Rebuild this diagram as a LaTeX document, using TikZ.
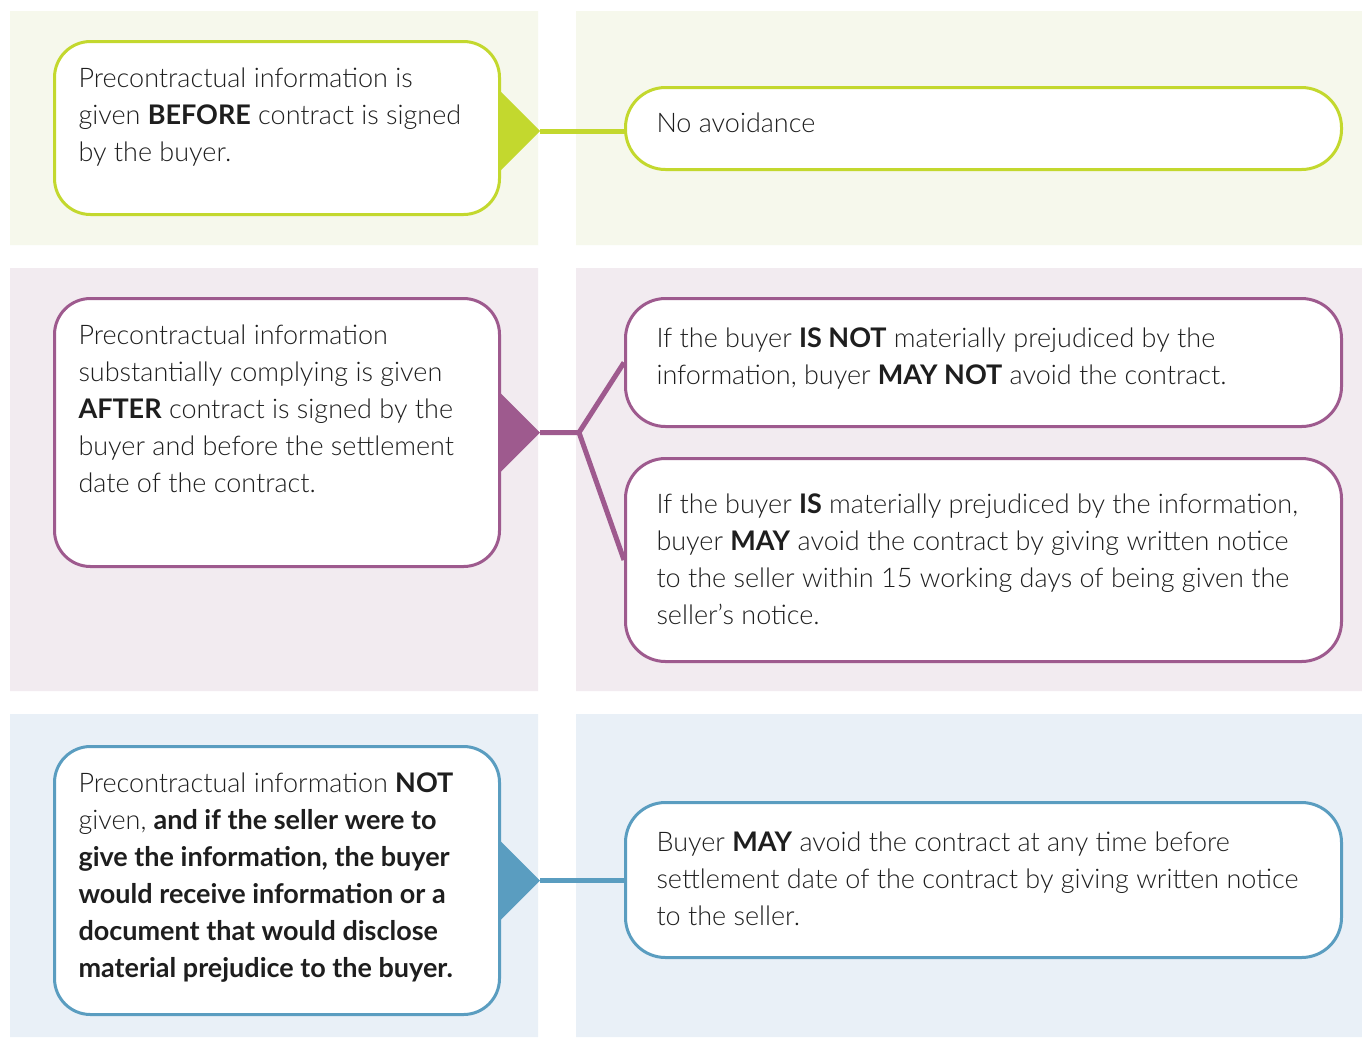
\documentclass[tikz,border=0pt]{standalone}
\usepackage{fontspec}
\setmainfont{Lato Light}[BoldFont={Lato Bold}]
\definecolor{limeline}{HTML}{C3D82E}
\definecolor{limebg}{HTML}{F6F8EC}
\definecolor{plumline}{HTML}{9E5A8E}
\definecolor{plumbg}{HTML}{F2EBF0}
\definecolor{blueline}{HTML}{5A9DC0}
\definecolor{bluebg}{HTML}{E9F0F7}
\definecolor{inktext}{HTML}{1E1E1E}
% width, height, gap above the first line, text
\newcommand\boxtext[4]{\parbox[c][#2][t]{#1}{\vspace*{#3}\strut#4}}
\newcommand\casetext[2]{\boxtext{397pt}{#1}{20pt}{#2}}
\newcommand\resulttext[3]{\boxtext{654pt}{#1}{#2}{#3}}
\tikzset{
  casebox/.style={draw=#1, line width=3pt, fill=white, rounded corners=36pt,
    anchor=north west, inner ysep=0pt, inner xsep=24pt,
    text=inktext, font=\fontsize{27pt}{37pt}\selectfont},
  resultbox/.style={draw=#1, line width=3pt, fill=white, rounded corners=40pt,
    anchor=north west, inner ysep=0pt, inner xsep=31pt,
    text=inktext, font=\fontsize{27pt}{37pt}\selectfont},
  link/.style={draw=#1, line width=5pt}
}
\begin{document}
\begin{tikzpicture}[x=1pt,y=-1pt]
\useasboundingbox[fill=white] (0,0) rectangle (1362,1037);
\fill[limebg] (10,11) rectangle (538,245) (576,11) rectangle (1362,245);
\fill[plumbg] (10,268) rectangle (538,691) (576,268) rectangle (1362,691);
\fill[bluebg] (10,714) rectangle (538,1037) (576,714) rectangle (1362,1037);

\node[casebox=limeline] (before) at (53,40) {\casetext{173pt}{Precontractual information is\\
  given \textbf{BEFORE} contract is signed\\
  by the buyer.}};
\node[resultbox=limeline] (no-avoid) at (624,86) {\resulttext{82pt}{19pt}{No avoidance}};

\node[casebox=plumline] (after) at (53,297) {\casetext{268pt}{Precontractual information\\
  substantially complying is given\\
  \textbf{AFTER} contract is signed by the\\
  buyer and before the settlement\\
  date of the contract.}};
\node[resultbox=plumline] (not-prej) at (624,297) {\resulttext{128pt}{23pt}{If the buyer \textbf{IS NOT} materially prejudiced by the\\
  information, buyer \textbf{MAY NOT} avoid the contract.}};
\node[resultbox=plumline] (prej) at (624,457) {\resulttext{203pt}{29pt}{If the buyer \textbf{IS} materially prejudiced by the information,\\
  buyer \textbf{MAY} avoid the contract by giving written notice\\
  to the seller within 15 working days of being given the\\
  seller’s notice.}};

\node[casebox=blueline] (not-given) at (53,745) {\casetext{268pt}{Precontractual information \textbf{NOT}\\
  given, \textbf{and if the seller were to\\
  give the information, the buyer\\
  would receive information or a\\
  document that would disclose\\
  material prejudice to the buyer.}}};
\node[resultbox=blueline] (may-avoid) at (624,801) {\resulttext{155pt}{23pt}{Buyer \textbf{MAY} avoid the contract at any time before\\
  settlement date of the contract by giving written notice\\
  to the seller.}};

\coordinate (tip-1) at ([xshift=39pt,yshift=-3pt]before.east);
\coordinate (tip-2) at ([xshift=39pt]after.east);
\coordinate (fork-2) at ([xshift=78pt]after.east);
\coordinate (tip-3) at ([xshift=39pt]not-given.east);

\draw[link=limeline] (tip-1) -- (tip-1 -| no-avoid.west);
\draw[link=plumline] (tip-2) -- (fork-2) -- (not-prej.west);
\draw[link=plumline] (fork-2) -- (prej.west);
\draw[link=blueline] (tip-3) -- (tip-3 -| may-avoid.west);

\fill[limeline] ([shift={(-39pt,39pt)}]tip-1) -- (tip-1) -- ([shift={(-39pt,-39pt)}]tip-1) -- cycle;
\fill[plumline] ([shift={(-39pt,39pt)}]tip-2) -- (tip-2) -- ([shift={(-39pt,-39pt)}]tip-2) -- cycle;
\fill[blueline] ([shift={(-39pt,39pt)}]tip-3) -- (tip-3) -- ([shift={(-39pt,-39pt)}]tip-3) -- cycle;
\end{tikzpicture}
\end{document}
